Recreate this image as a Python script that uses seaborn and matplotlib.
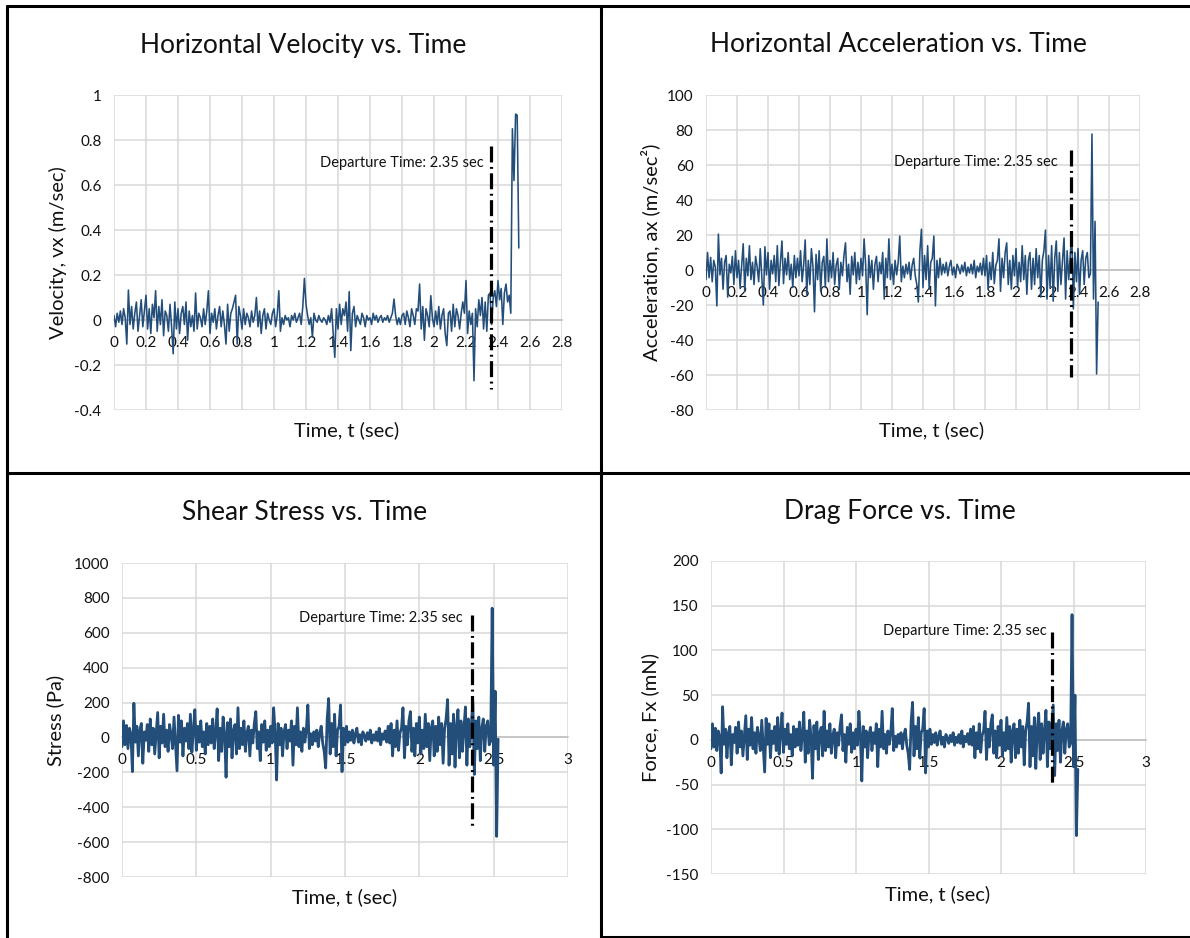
import numpy as np
import pandas as pd
import matplotlib
matplotlib.use("Agg")
import matplotlib.pyplot as plt
from matplotlib.lines import Line2D
from matplotlib.ticker import FuncFormatter, MultipleLocator
from matplotlib.transforms import offset_copy
import seaborn as sns

# ---------------- data ----------------
DT = 0.01  # sampling step, seconds

velocity = [
    0.02, -0.03, 0.03, -0.01, 0.04, -0.02, 0.05, 0.01, -0.107, 0.133,
    -0.02, 0.06, -0.04, 0.03, 0.08, -0.05, 0.02, 0.09, -0.03, 0.04,
    0.11, -0.04, 0.05, -0.06, 0.07, 0.01, 0.13, -0.05, 0.06, -0.02,
    0.09, -0.07, 0.04, 0.02, -0.05, 0.07, -0.03, -0.15, 0.08, -0.04,
    0.05, -0.06, 0.03, 0.06, -0.02, 0.08, -0.09, 0.04, -0.03, 0.02,
    -0.05, 0.12, -0.04, 0.03, 0.01, -0.03, 0.05, -0.02, 0.04, 0.13,
    -0.06, 0.03, -0.01, 0.05, -0.04, 0.02, 0.06, -0.03, 0.04, -0.02,
    -0.107, 0.07, -0.05, 0.03, 0.05, 0.08, 0.11, -0.107, 0.06, 0.02,
    -0.04, 0.05, -0.02, 0.03, 0.01, -0.03, 0.04, -0.01, 0.02, 0.10,
    -0.03, 0.04, -0.06, 0.02, 0.05, -0.04, 0.03, 0.00, -0.02, 0.03,
    0.05, -0.03, 0.02, 0.13, -0.05, 0.01, -0.02, 0.02, 0.00, 0.01,
    -0.03, 0.02, 0.00, 0.03, -0.01, 0.01, 0.03, -0.02, 0.06, 0.185,
    0.07, 0.02, -0.02, 0.01, -0.077, 0.03, 0.00, -0.01, 0.02, 0.00,
    -0.01, 0.01, 0.00, -0.02, 0.02, -0.01, 0.05, -0.06, -0.166, 0.05,
    -0.04, 0.07, -0.02, 0.05, 0.02, 0.08, -0.05, 0.126, -0.136, 0.03,
    0.06, -0.03, 0.02, 0.00, -0.02, 0.03, 0.01, -0.03, 0.02, 0.00,
    0.01, -0.02, 0.03, 0.00, 0.02, -0.01, 0.01, 0.02, -0.01, 0.01,
    0.00, 0.02, -0.01, 0.01, 0.03, 0.093, 0.02, -0.02, 0.01, -0.02,
    0.02, 0.03, -0.02, 0.04, 0.01, -0.03, 0.05, 0.02, -0.02, 0.05,
    0.04, 0.16, -0.04, 0.06, -0.09, 0.05, 0.02, -0.03, 0.108, 0.01,
    -0.03, 0.04, -0.02, 0.06, -0.04, 0.02, 0.05, -0.06, -0.114, 0.03,
    0.04, -0.05, 0.07, -0.03, 0.05, 0.02, -0.04, 0.03, 0.08, 0.03,
    0.175, -0.06, 0.04, -0.02, 0.03, -0.27, 0.05, -0.03, 0.09, 0.02,
    0.10, -0.04, 0.08, -0.05, 0.11, 0.12, -0.02, 0.10, 0.13, 0.06,
    0.175, 0.09, 0.14, -0.02, 0.12, 0.16, 0.08, 0.11, 0.03, 0.85,
    0.62, 0.915, 0.91, 0.32,
]

acceleration = [
    -5.5, 10, -4.4, 7.2, -6.7, 5.5, 1.7, -20.5, 20.5, -2.8,
    6.7, -11, 4.4, 8.3, -15.5, 3.3, -1.7, 7.8, -8.3, 11,
    -4.4, 5.5, -10, 2.8, 15, -12.2, 6.7, -3.3, 13.9, -5.5,
    4.4, -8.3, 7.8, 1.7, -6.7, 12.2, -4.4, -20, 13.3, -2.8,
    10, -11, 5.5, -2.2, 8.3, -6.7, 13.9, -8.9, 4.4, 16.6,
    -7.8, 6.7, -2.8, 10, -5.5, 3.3, -10, 8.3, -4.4, 6.7,
    -3.3, 11, -6.7, 2.8, 17.2, -13.9, 5.5, -8.3, 12.2, 2.2,
    -23.9, 8.9, -5.5, 11, -12.2, 4.4, 7.8, -10, 17.8, -6.7,
    5.5, -4.4, 10, -8.3, 2.8, 6.7, -11, 4.4, -3.3, 8.3,
    15.5, -6.7, 3.3, -13.9, 7.8, -2.8, 10, -7.8, 4.4, -5.5,
    6.7, -3.3, 17.8, 2.8, -25.5, 8.3, -4.4, 5.5, -11, 3.3,
    7.8, -6.7, 4.4, -2.2, 10, -16.6, 6.7, -4.4, 17.8, -5.5,
    3.3, -8.3, 5.5, -2.8, 4.4, 19.4, -6.7, 2.2, -4.4, 3.3,
    -2.2, 4.4, -5.5, 2.8, 6.7, -3.3, -8.3, -18.3, 11, 23.3,
    -10, 8.3, -5.5, 13.9, -11, 4.4, 6.7, 19.4, -20.5, 5.5,
    -4.4, 6.7, -2.8, 3.3, -1.7, 4.4, -3.3, 2.2, 5.5, -2.8,
    1.7, -4.4, 3.3, 1.1, -2.2, 2.8, -1.1, 4.4, -3.3, 1.7,
    -1.7, 3.3, -2.2, 5.5, -4.4, 2.2, -1.1, 3.9, -2.8, 6.7,
    -3.3, 8.3, -11, 4.4, -5.5, 10, -7.8, 2.8, 5.5, 17.8,
    -12.2, 6.7, -4.4, 10, 15.5, -8.3, 5.5, -11, 8.3, -3.3,
    12.2, -10, 4.4, -6.7, 13.9, -5.5, 8.3, -13.9, 5.5, 10,
    -11, 6.7, -8.3, 12.2, -4.4, 8.3, -15.5, 5.5, 11, 22.8,
    -16.6, 8.3, -10, 13.9, -17.8, 6.7, 16.6, -12.2, 10, -8.3,
    5.5, 18.3, -16.6, 11, -5.5, 8.3, 21.6, -22.2, 10, -6.7,
    12.2, -13.9, 5.5, 11, -8.3, 6.7, 10, -4.4, -2.2, 77.7,
    -16.6, 27.8, -59.4, -18.3,
]

stress = [
    -53, 95, -42, 69, -64, 53, 16, -196, 196, -27,
    64, -106, 42, 80, -148, 32, -16, 74, -80, 106,
    -42, 53, -95, 27, 143, -117, 64, -32, 133, -53,
    42, -80, 74, 16, -64, 117, -42, -191, 127, -27,
    95, -106, 53, -21, 80, -64, 133, -85, 42, 159,
    -74, 64, -27, 95, -53, 32, -95, 80, -42, 64,
    -32, 106, -64, 27, 164, -133, 53, -80, 117, 21,
    -228, 85, -53, 106, -117, 42, 74, -95, 170, -64,
    53, -42, 95, -80, 27, 64, -106, 42, -32, 80,
    148, -64, 32, -133, 74, -27, 95, -74, 42, -53,
    64, -32, 170, 27, -244, 80, -42, 53, -106, 32,
    74, -64, 42, -21, 95, -159, 64, -42, 170, -53,
    32, -80, 53, -27, 42, 186, -64, 21, -42, 32,
    -21, 42, -53, 27, 64, -32, -80, -175, 106, 223,
    -95, 80, -53, 133, -106, 42, 64, 186, -196, 53,
    -42, 64, -27, 32, -16, 42, -32, 21, 53, -27,
    16, -42, 32, 11, -21, 27, -11, 42, -32, 16,
    -16, 32, -21, 53, -42, 21, -11, 37, -27, 64,
    -32, 80, -106, 42, -53, 95, -74, 27, 53, 170,
    -117, 64, -42, 95, 148, -80, 53, -106, 80, -32,
    117, -95, 42, -64, 133, -53, 80, -133, 53, 95,
    -106, 64, -80, 117, -42, 80, -148, 53, 106, 217,
    -159, 80, -95, 133, -170, 64, 159, -117, 95, -80,
    53, 175, -159, 106, -53, 80, 207, -212, 95, -64,
    117, -133, 53, 106, -80, 64, 95, -42, -21, 741,
    -159, 265, -567, -10,
]

force = [
    -10, 18, -8, 13, -12, 10, 3, -37, 37, -5,
    12, -20, 8, 15, -28, 6, -3, 14, -15, 20,
    -8, 10, -18, 5, 27, -22, 12, -6, 25, -10,
    8, -15, 14, 3, -12, 22, -8, -36, 24, -5,
    18, -20, 10, -4, 15, -12, 25, -16, 8, 30,
    -14, 12, -5, 18, -10, 6, -18, 15, -8, 12,
    -6, 20, -12, 5, 31, -25, 10, -15, 22, 4,
    -43, 16, -10, 20, -22, 8, 14, -18, 32, -12,
    10, -8, 18, -15, 5, 12, -20, 8, -6, 15,
    28, -12, 6, -25, 14, -5, 18, -14, 8, -10,
    12, -6, 32, 5, -46, 15, -8, 10, -20, 6,
    14, -12, 8, -4, 18, -30, 12, -8, 32, -10,
    6, -15, 10, -5, 8, 35, -12, 4, -8, 6,
    -4, 8, -10, 5, 12, -6, -15, -33, 20, 42,
    -18, 15, -10, 25, -20, 8, 12, 35, -37, 10,
    -8, 12, -5, 6, -3, 8, -6, 4, 10, -5,
    3, -8, 6, 2, -4, 5, -2, 8, -6, 3,
    -3, 6, -4, 10, -8, 4, -2, 7, -5, 12,
    -6, 15, -20, 8, -10, 18, -14, 5, 10, 32,
    -22, 12, -8, 18, 28, -15, 10, -20, 15, -6,
    22, -18, 8, -12, 25, -10, 15, -25, 10, 18,
    -20, 12, -15, 22, -8, 15, -28, 10, 20, 41,
    -30, 15, -18, 25, -32, 12, 30, -22, 18, -15,
    10, 33, -30, 20, -10, 15, 39, -40, 18, -12,
    22, -25, 10, 20, -15, 12, 18, -8, -4, 140,
    -30, 50, -107, -33,
]

titles = ["Horizontal Velocity vs. Time", "Horizontal Acceleration vs. Time",
          "Shear Stress vs. Time", "Drag Force vs. Time"]
ylabels = ["Velocity, vx (m/sec)", "Acceleration, ax (m/sec²)",
           "Stress (Pa)", "Force, Fx (mN)"]
xlabel = "Time, t (sec)"

departure_time = 2.355
departure_text = "Departure Time: 2.35 sec"
departure_top = [0.775, 68.5, 703, 121]
departure_bottom = [-0.307, -61, -510, -52]
departure_text_y = [0.70, 62, 686, 122]

x_limits = [(0, 2.8), (0, 2.8), (0, 3), (0, 3)]
x_steps = [0.2, 0.2, 0.5, 0.5]
y_limits = [(-0.4, 1.0), (-80, 100), (-800, 1000), (-150, 200)]
y_steps = [0.2, 20, 200, 50]

series = [velocity, acceleration, stress, force]
assert all(len(s) == len(velocity) for s in series)
time = np.round(np.arange(len(velocity)) * DT, 3)

# ---------------- styling / layout ----------------
sns.set_theme(style="whitegrid")
plt.rcParams["font.family"] = ["Lato", "DejaVu Sans"]

W, H = 1190, 938
fig = plt.figure(figsize=(W / 100, H / 100), dpi=100)
fig.patch.set_facecolor("white")

LINE = "#234E7A"
GRID = "#D9D9D9"
TXT = "#111111"

# plot-area boxes in pixels: left, top, right, bottom
boxes = [(114, 95, 562, 410), (706, 95, 1140, 410),
         (122, 563, 568, 877), (711, 561, 1146, 874)]
title_pos = [(303, 45), (898, 45), (305, 513), (900, 511)]
ylabel_x = [58, 650, 55, 650]
xlabel_shift = [9, 9, 0, 9]
line_widths = [1.15, 1.15, 2.0, 2.0]
text_gap = [7, 13, 9, 6]


def fmt(v, _pos):
    return f"{v:g}".replace("\u2212", "-")


for k in range(4):
    l, t, r, b = boxes[k]
    ax = fig.add_axes([l / W, 1 - b / H, (r - l) / W, (b - t) / H])
    ax.set_facecolor("white")
    df = pd.DataFrame({"t": time, "v": series[k]})
    sns.lineplot(data=df, x="t", y="v", ax=ax, color=LINE, lw=line_widths[k],
                 estimator=None, sort=False, zorder=3)
    ax.plot([departure_time, departure_time], [departure_top[k], departure_bottom[k]],
            color="black", lw=2.3, ls=(0, (5, 1.4, 0.6, 1.4)), zorder=4,
            solid_capstyle="butt", dash_capstyle="butt")
    ax.text(departure_time, departure_text_y[k], departure_text,
            transform=offset_copy(ax.transData, fig=fig, x=-text_gap[k], units="dots"),
            ha="right", va="center", fontsize=10.5, color=TXT, zorder=5)

    ax.set_xlim(*x_limits[k])
    ax.set_ylim(*y_limits[k])
    ax.xaxis.set_major_locator(MultipleLocator(x_steps[k]))
    ax.yaxis.set_major_locator(MultipleLocator(y_steps[k]))
    ax.xaxis.set_major_formatter(FuncFormatter(fmt))
    ax.yaxis.set_major_formatter(FuncFormatter(fmt))
    ax.grid(True, color=GRID, lw=1.1)
    for side in ["top", "right", "left"]:
        ax.spines[side].set_visible(False)
    ax.spines["bottom"].set_position(("data", 0))
    ax.spines["bottom"].set_color("#BFBFBF")
    ax.spines["bottom"].set_linewidth(1.1)
    ax.spines["bottom"].set_zorder(1)
    ax.tick_params(axis="both", length=0, labelsize=11, labelcolor=TXT)
    ax.tick_params(axis="x", pad=11.5)
    ax.tick_params(axis="y", pad=9)
    ax.set_xlabel("")
    ax.set_ylabel("")

    wpx, hpx = r - l, b - t
    ax.text(0.5 + xlabel_shift[k] / wpx, -20 / hpx, xlabel, transform=ax.transAxes,
            ha="center", va="center", fontsize=14.5, color=TXT)
    ax.text((ylabel_x[k] - l) / wpx, 0.5, ylabels[k], transform=ax.transAxes,
            rotation=90, ha="center", va="center", fontsize=14.5, color=TXT)

    tx, ty = title_pos[k]
    fig.text(tx / W, 1 - ty / H, titles[k], ha="center", va="center",
             fontsize=19, color=TXT)

# panel frame lines
def hline(y, x0, x1):
    fig.add_artist(Line2D([x0 / W, x1 / W], [1 - y / H, 1 - y / H],
                          transform=fig.transFigure, color="black", lw=2.2))

def vline(x, y0, y1):
    fig.add_artist(Line2D([x / W, x / W], [1 - y0 / H, 1 - y1 / H],
                          transform=fig.transFigure, color="black", lw=2.2))

hline(6, 7, W)
hline(473, 7, W)
hline(937, 601, W)
vline(7, 6, H)
vline(601, 6, H)

fig.savefig("out.png", dpi=100, facecolor="white")
